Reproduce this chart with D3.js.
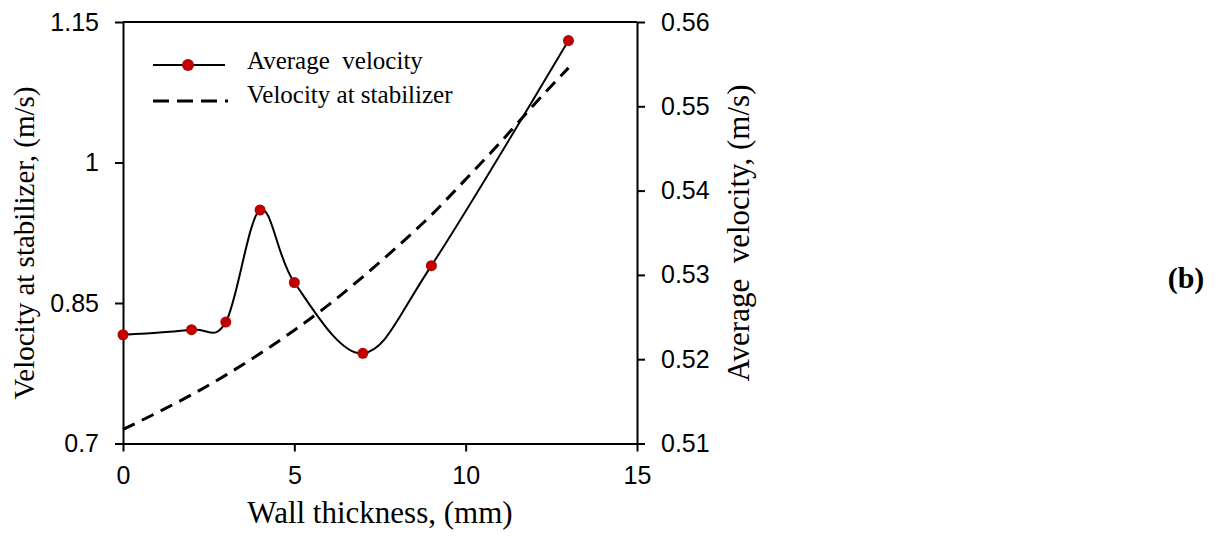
<!DOCTYPE html>
<html>
<head>
<meta charset="utf-8">
<script src="https://cdn.jsdelivr.net/npm/d3@7"></script>
<style>
  body { margin: 0; background: #fff; }
  .tick text { font-family: "Liberation Sans", Arial, sans-serif; font-size: 25px; fill: #000; }
  .domain, .tick line { stroke: #000; stroke-width: 2px; }
  .title { font-family: "Liberation Serif", "Times New Roman", serif; fill: #000; }
</style>
</head>
<body>
<svg></svg>
<script>
/* Wall thickness vs velocity, dual axis */
var w = 1220, h = 536;

// average velocity (right axis), measured points
var thickness = [0, 2, 3, 4, 5, 7, 9, 13];
var avgVelocity = [0.5229, 0.5235, 0.5244, 0.5377, 0.5291, 0.5207, 0.5311, 0.5578];

// velocity at stabilizer (left axis), fitted curve
var stabThickness = [0, 1, 2, 3, 4, 5, 6, 7, 8, 9, 10, 11, 12, 13];
var stabVelocity = [0.715, 0.733, 0.752, 0.773, 0.796, 0.821, 0.848, 0.878, 0.910, 0.944, 0.982, 1.021, 1.062, 1.101];

var xTicks = [0, 5, 10, 15];
var leftTicks = [0.7, 0.85, 1, 1.15];
var rightTicks = [0.51, 0.52, 0.53, 0.54, 0.55, 0.56];

var svg = d3.select("svg")
            .attr("width", w)
            .attr("height", h);

var x = d3.scaleLinear().domain([0, 15]).range([123, 637]);
var yL = d3.scaleLinear().domain([0.7, 1.15]).range([443.5, 22]);
var yR = d3.scaleLinear().domain([0.51, 0.56]).range([443.5, 22]);

// frame top
svg.append("line")
   .attr("x1", x(0)).attr("x2", x(15))
   .attr("y1", yL(1.15)).attr("y2", yL(1.15))
   .attr("stroke", "#000").attr("stroke-width", 2);

svg.append("g")
   .attr("transform", "translate(0," + yL(0.7) + ")")
   .call(d3.axisBottom(x).tickValues(xTicks).tickSize(8).tickSizeOuter(0).tickPadding(15));

svg.append("g")
   .attr("transform", "translate(" + x(0) + ",0)")
   .call(d3.axisLeft(yL).tickValues(leftTicks).tickSize(8).tickSizeOuter(0).tickPadding(16)
           .tickFormat(function(d) { return String(d); }));

svg.append("g")
   .attr("transform", "translate(" + x(15) + ",0)")
   .call(d3.axisRight(yR).tickValues(rightTicks).tickSize(8).tickSizeOuter(0).tickPadding(16)
           .tickFormat(d3.format(".2f")));

// dashed stabilizer curve
var stabLine = d3.line()
                 .x(function(d, i) { return x(stabThickness[i]); })
                 .y(function(d) { return yL(d); })
                 .curve(d3.curveMonotoneX);

svg.append("path")
   .datum(stabVelocity)
   .attr("d", stabLine)
   .attr("fill", "none")
   .attr("stroke", "#000")
   .attr("stroke-width", 3)
   .attr("stroke-dasharray", "13,8");

// smoothed average velocity
var avgLine = d3.line()
                .x(function(d, i) { return x(thickness[i]); })
                .y(function(d) { return yR(d); })
                .curve(d3.curveCardinal.tension(0));

svg.append("path")
   .datum(avgVelocity)
   .attr("d", avgLine)
   .attr("fill", "none")
   .attr("stroke", "#000")
   .attr("stroke-width", 2);

svg.append("g")
   .selectAll("circle")
   .data(avgVelocity)
   .enter()
   .append("circle")
   .attr("cx", function(d, i) { return x(thickness[i]); })
   .attr("cy", function(d) { return yR(d); })
   .attr("r", 5.5)
   .attr("fill", "#c00000");

// legend
var legend = svg.append("g");
legend.append("line")
      .attr("x1", 153).attr("x2", 225).attr("y1", 65).attr("y2", 65)
      .attr("stroke", "#000").attr("stroke-width", 2);
legend.append("circle")
      .attr("cx", 188).attr("cy", 65).attr("r", 6)
      .attr("fill", "#c00000");
legend.append("text")
      .attr("class", "title")
      .attr("x", 247).attr("y", 69)
      .style("font-size", "25px")
      .style("white-space", "pre")
      .text("Average  velocity");
legend.append("line")
      .attr("x1", 153).attr("x2", 228).attr("y1", 101).attr("y2", 101)
      .attr("stroke", "#000").attr("stroke-width", 3)
      .attr("stroke-dasharray", "16,8");
legend.append("text")
      .attr("class", "title")
      .attr("x", 247).attr("y", 103)
      .style("font-size", "25px")
      .text("Velocity at stabilizer");

// axis titles
svg.append("text")
   .attr("class", "title")
   .attr("x", 380).attr("y", 523)
   .attr("text-anchor", "middle")
   .style("font-size", "31px")
   .text("Wall thickness, (mm)");

svg.append("text")
   .attr("class", "title")
   .attr("transform", "translate(34,243) rotate(-90)")
   .attr("text-anchor", "middle")
   .style("font-size", "29px")
   .text("Velocity at stabilizer, (m/s)");

svg.append("text")
   .attr("class", "title")
   .attr("transform", "translate(749,233) rotate(-90)")
   .attr("text-anchor", "middle")
   .style("font-size", "31px")
   .style("white-space", "pre")
   .text("Average  velocity, (m/s)");

svg.append("text")
   .attr("class", "title")
   .attr("x", 1186).attr("y", 288)
   .attr("text-anchor", "middle")
   .style("font-size", "30px")
   .style("font-weight", "bold")
   .text("(b)");
</script>
</body>
</html>
